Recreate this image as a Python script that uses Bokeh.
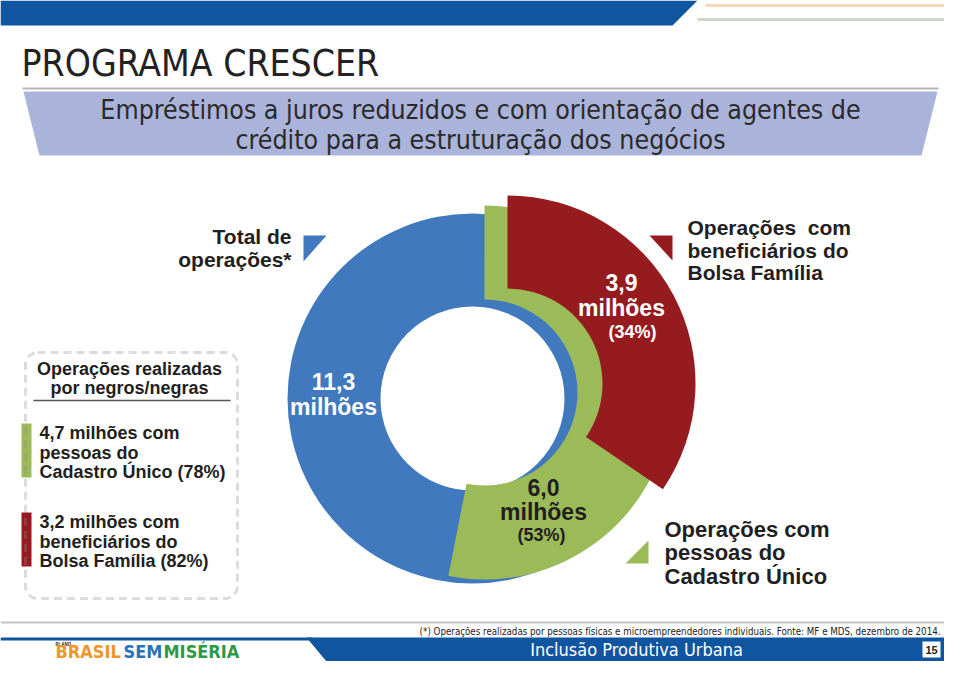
from math import pi
from bokeh.plotting import figure
from bokeh.models import Range1d, BoxAnnotation
from bokeh.core.properties import value
from bokeh.embed import file_html
from bokeh.resources import INLINE

# ---------------- data ----------------
segment_names = ["Total de operações*", "Operações com pessoas do Cadastro Único",
                 "Operações com beneficiários do Bolsa Família"]
segment_values = [11.3, 6.0, 3.9]          # milhões de operações
segment_pcts = ["", "(53%)", "(34%)"]
segment_value_labels = ["11,3", "6,0", "3,9"]
negros_values = ["4,7", "3,2"]
negros_pcts = ["(78%)", "(82%)"]

H = 677
BLUE, GREEN, RED = "#4179be", "#9bbb59", "#961b1f"
NAVY = "#0f55a0"
DARK = "#231f20"
COND = "DejaVu Sans Condensed"
SANS = "Liberation Sans"

p = figure(width=944, height=661, x_range=Range1d(0, 944), y_range=Range1d(H - 661, H),
           x_axis_location=None, y_axis_location=None, toolbar_location=None,
           output_backend="svg", min_border=0)
p.outline_line_color = None
p.xgrid.visible = False
p.ygrid.visible = False
p.background_fill_color = "white"
p.border_fill_color = "white"


def Y(y):
    return H - y


def txt(x, y, s, size, color=DARK, font=SANS, style="bold", align="left"):
    p.text(x=[x], y=[Y(y)], text=[s], text_font=value(font), text_font_size=size,
           text_font_style=style, text_color=color, text_align=align, text_baseline="middle")


# ---------------- header ----------------
p.patch([0, 697, 672, 0], [Y(0), Y(0), Y(25), Y(25)], fill_color=NAVY, line_color=None)
p.segment(x0=[705], y0=[Y(5)], x1=[960], y1=[Y(5)], line_color="#f7d9b8", line_width=3)
p.segment(x0=[697], y0=[Y(19)], x1=[960], y1=[Y(19)], line_color="#cdd8c6", line_width=3)
txt(21, 63, "PROGRAMA CRESCER", "37px", color="#222222", font=COND, style="normal")
p.segment(x0=[22], y0=[Y(88)], x1=[938], y1=[Y(88)], line_color="#b5b5b5", line_width=2)
p.patch([23, 937, 921, 39], [Y(91), Y(91), Y(155), Y(155)], fill_color="#aab3d9", line_color=None)
txt(480, 109, "Empréstimos a juros reduzidos e com orientação de agentes de", "26.5px",
    color="#2a2a2a", font=COND, style="normal", align="center")
txt(480, 139, "crédito para a estruturação dos negócios", "26.5px",
    color="#2a2a2a", font=COND, style="normal", align="center")

# ---------------- donut ----------------
cx_b, cy_b = 472, 398
cx_g, cy_g = 484, 392
cx_r, cy_r = 507, 383
p.annulus(x=[cx_b], y=[Y(cy_b)], inner_radius=92, outer_radius=185,
          fill_color=BLUE, line_color=None)
g_span = 2 * pi * segment_values[1] / segment_values[0]
p.annular_wedge(x=[cx_g], y=[Y(cy_g)], inner_radius=93, outer_radius=187,
                start_angle=pi / 2 - g_span, end_angle=pi / 2, fill_color=GREEN, line_color=None)
r_span = 2 * pi * segment_values[2] / segment_values[0]
p.annular_wedge(x=[cx_r], y=[Y(cy_r)], inner_radius=95, outer_radius=188,
                start_angle=pi / 2 - r_span, end_angle=pi / 2, fill_color=RED, line_color=None)

# labels in donut
txt(333, 381, segment_value_labels[0], "23px", color="white", align="center")
txt(333, 406, "milhões", "23px", color="white", align="center")
txt(621, 282, segment_value_labels[2], "23px", color="white", align="center")
txt(621, 307, "milhões", "23px", color="white", align="center")
txt(632, 331, segment_pcts[2], "18px", color="white", align="center")
txt(543, 487, segment_value_labels[1], "23px", color=DARK, align="center")
txt(543, 511, "milhões", "23px", color=DARK, align="center")
txt(541, 534, segment_pcts[1], "18px", color=DARK, align="center")

# legend triangles + labels
p.patch([303, 326, 303], [Y(235), Y(235), Y(261)], fill_color=BLUE, line_color=None)
p.patch([649, 672, 672], [Y(235), Y(235), Y(260)], fill_color=RED, line_color=None)
p.patch([625, 648, 648], [Y(563), Y(563), Y(540)], fill_color=GREEN, line_color=None)
txt(291, 236, "Total de", "21px", align="right")
txt(291, 259, "operações*", "21px", align="right")
txt(687, 227, "Operações\u00a0\u00a0com", "21px")
txt(687, 250, "beneficiários do", "21px")
txt(687, 272, "Bolsa Família", "21px")
txt(664, 529, "Operações com", "22px")
txt(664, 552, "pessoas do", "22px")
txt(664, 576, "Cadastro Único", "22px")

# ---------------- left box ----------------
p.add_layout(BoxAnnotation(left=25, right=237, top=Y(352), bottom=Y(598), fill_color=None,
                           fill_alpha=0, line_color="#8c8c8c", line_width=3, line_dash="8 5",
                           border_radius=12))
txt(129, 368, "Operações realizadas", "18px", align="center")
txt(129, 387, "por negros/negras", "18px", align="center")
p.segment(x0=[33], y0=[Y(400)], x1=[230], y1=[Y(400)], line_color="#555555", line_width=1.5)
p.quad(left=[21], right=[31], top=[Y(423)], bottom=[Y(477)], fill_color=GREEN, line_color=None)
p.quad(left=[21], right=[31], top=[Y(512)], bottom=[Y(566)], fill_color=RED, line_color=None)
txt(39, 432, negros_values[0] + " milhões com", "18px")
txt(39, 452, "pessoas do", "18px")
txt(39, 471, "Cadastro Único " + negros_pcts[0], "18px")
txt(39, 521, negros_values[1] + " milhões com", "18px")
txt(39, 541, "beneficiários do", "18px")
txt(39, 560, "Bolsa Família " + negros_pcts[1], "18px")

# ---------------- footer (fitted into the visible frame) ----------------
p.segment(x0=[0], y0=[Y(622)], x1=[944], y1=[Y(622)], line_color="#c4c4c4", line_width=2)
txt(940, 631, "(*) Operações realizadas por pessoas físicas e microempreendedores individuais. "
    "Fonte: MF e MDS, dezembro de 2014.", "9.7px", color="#222222", font=COND,
    style="normal", align="right")
p.patch([0, 312, 312, 0], [Y(637), Y(637), Y(640), Y(640)], fill_color=NAVY, line_color=None)
p.patch([306, 944, 944, 326], [Y(637), Y(637), Y(661), Y(661)], fill_color=NAVY, line_color=None)
txt(636, 649, "Inclusão Produtiva Urbana", "18px", color="white", font=COND, style="normal",
    align="center")
p.quad(left=[922], right=[940], top=[Y(641)], bottom=[Y(657)], fill_color="white",
       line_color=None)
txt(931, 649.5, "15", "11px", color=DARK, align="center")
txt(55, 643.5, "PLANO", "4.5px", color=DARK)
txt(55, 651, "BRASIL", "18px", color="#f0962a", font=COND, style="bold")
txt(123, 651, "SEM", "18px", color="#2a73bb", font=COND, style="bold")
txt(163, 651, "MISÉRIA", "18px", color="#2e9a48", font=COND, style="bold")

open("out.html", "w").write(file_html(p, INLINE))
